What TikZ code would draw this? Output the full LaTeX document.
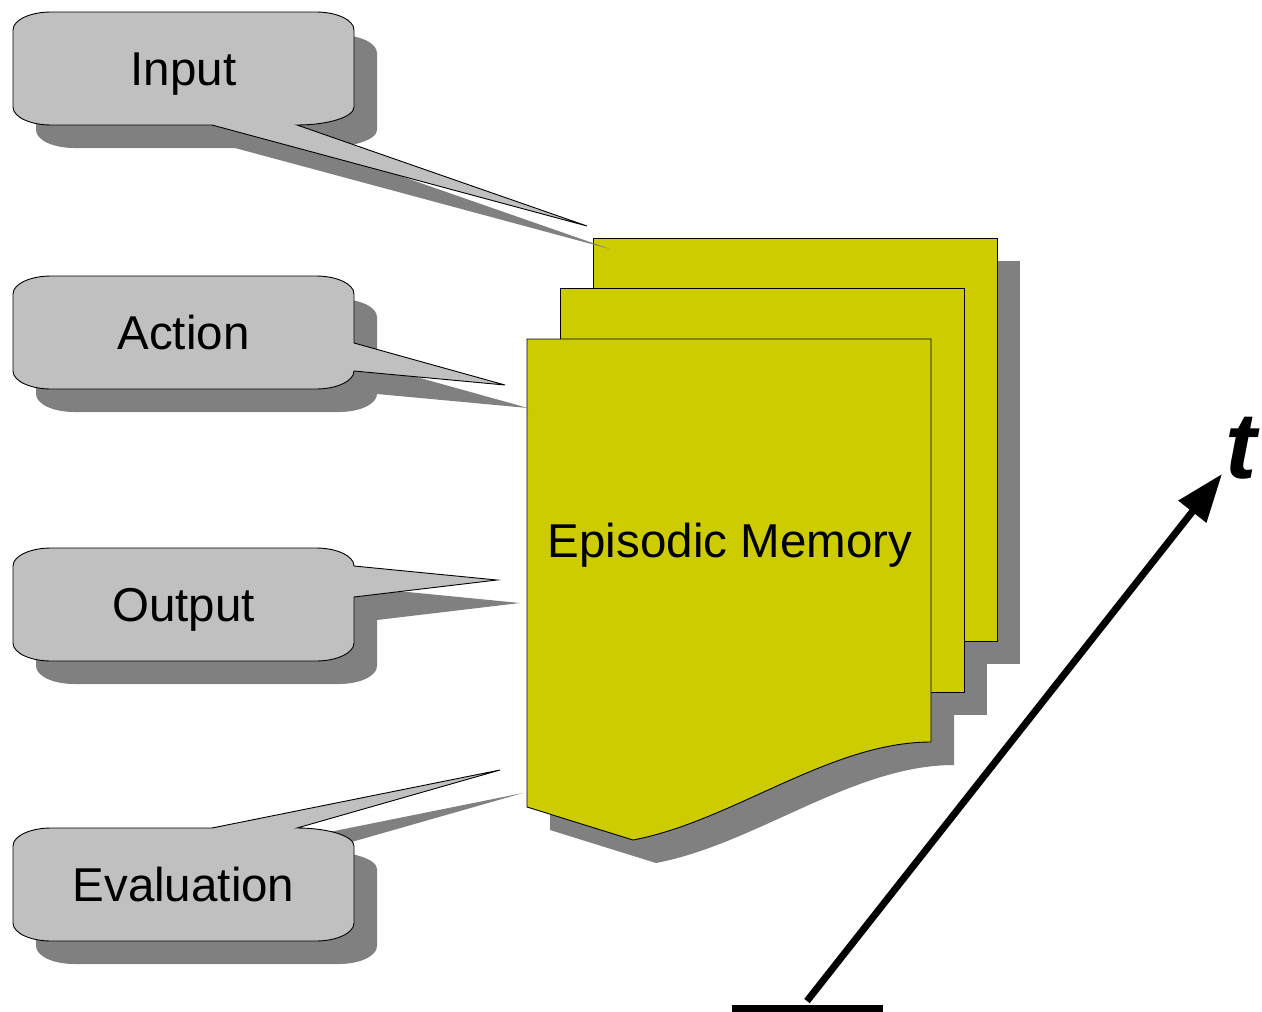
\documentclass[tikz,border=0pt]{standalone}
\usepackage{fontspec}
\setmainfont{Liberation Sans}
\usepackage{tikz}
\usetikzlibrary{arrows.meta}

\definecolor{globogris}{HTML}{C0C0C0}
\definecolor{sombragris}{HTML}{808080}
\definecolor{hojaamarilla}{HTML}{CCCC00}

\begin{document}
\begin{tikzpicture}[x=1pt, y=1pt, >={Triangle[length=48pt, width=34pt]},
	globo/.style={fill=globogris, draw=black, line width=0.9pt},
	hoja/.style={fill=hojaamarilla, draw=black, line width=0.9pt},
	sombra/.style={fill=sombragris, draw=none},
	texto/.style={anchor=base, inner sep=0pt, font=\fontsize{47.5}{57}\selectfont}]

	\useasboundingbox (0,0) rectangle (1262,-1012);

	% Documentos
	\foreach \d/\estilo in {23/sombra, 0/hoja}{
		\begin{scope}[shift={(\d,-\d)}]
		\path[\estilo] (593,-238) rectangle (997,-641);
		\path[\estilo] (560,-288) rectangle (964,-692);
		\path[\estilo] (527,-339) -- (931,-339) -- (931,-742)
			.. controls (830,-742) and (733,-821) .. (633,-840) -- (527,-807) -- cycle;
		\end{scope}
	}
	\node[texto] (memoria) at (730,-557) {Episodic Memory};

	% Globos
	\foreach \d/\estilo in {23/sombra, 0/globo}{
		\begin{scope}[shift={(\d,-\d)}]
		% Input
		\path[\estilo] (51,-12) -- (316,-12) arc[start angle=90, end angle=0, x radius=38, y radius=18]
			-- (354,-107) arc[start angle=0, end angle=-90, x radius=57, y radius=18]
			-- (587,-226) -- (212,-125) -- (51,-125) arc[start angle=270, end angle=180, x radius=38, y radius=18]
			-- (13,-30) arc[start angle=180, end angle=90, x radius=38, y radius=18] -- cycle;
		% Action
		\path[\estilo] (51,-276) -- (316,-276) arc[start angle=90, end angle=0, x radius=38, y radius=18]
			-- (354,-343) -- (505,-385) -- (354,-371) arc[start angle=0, end angle=-90, x radius=38, y radius=18]
			-- (51,-389) arc[start angle=270, end angle=180, x radius=38, y radius=18]
			-- (13,-294) arc[start angle=180, end angle=90, x radius=38, y radius=18] -- cycle;
		% Output
		\path[\estilo] (51,-548) -- (316,-548) arc[start angle=90, end angle=0, x radius=38, y radius=18]
			-- (497,-580) -- (354,-597) -- (354,-643) arc[start angle=0, end angle=-90, x radius=38, y radius=18]
			-- (51,-661) arc[start angle=270, end angle=180, x radius=38, y radius=18]
			-- (13,-566) arc[start angle=180, end angle=90, x radius=38, y radius=18] -- cycle;
		% Evaluation
		\path[\estilo] (51,-828) -- (212,-828) -- (500,-770) -- (297,-828)
			arc[start angle=90, end angle=0, x radius=57, y radius=18]
			-- (354,-923) arc[start angle=0, end angle=-90, x radius=38, y radius=18]
			-- (51,-941) arc[start angle=270, end angle=180, x radius=38, y radius=18]
			-- (13,-846) arc[start angle=180, end angle=90, x radius=38, y radius=18] -- cycle;
		\end{scope}
	}

	\node[texto] (input) at (183.5,-85) {Input};
	\node[texto] (action) at (183.5,-349) {Action};
	\node[texto] (output) at (183.5,-621) {Output};
	\node[texto] (evaluation) at (183.5,-901) {Evaluation};

	% Eje de tiempo
	\coordinate (izq) at (732,-1008);
	\coordinate (der) at (883,-1008);
	\coordinate (inicio) at (807,-1001);
	\coordinate (fin) at (1222,-474);
	\node[anchor=base west, inner sep=0pt, font=\fontsize{94}{104}\selectfont\bfseries\itshape] (t) at (1225,-478) {t};

	\draw[line width=7pt] (izq) -- (der);
	\draw[->, line width=7pt] (inicio) -- (fin);
\end{tikzpicture}
\end{document}
